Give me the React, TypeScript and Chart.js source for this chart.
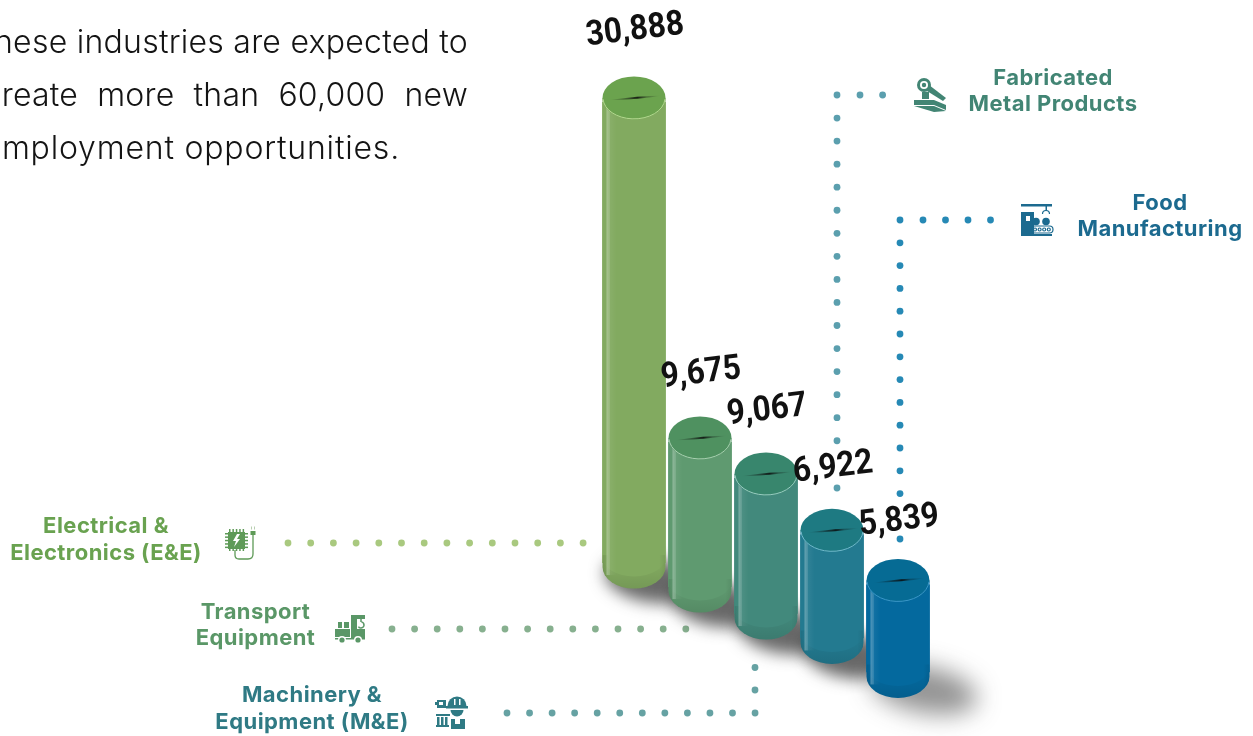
import React, { useEffect, useRef } from "react";
import { Chart, registerables } from "chart.js";

Chart.register(...registerables);

// Employment opportunities per industry
const industries = [
  "Electrical & Electronics (E&E)",
  "Transport Equipment",
  "Machinery & Equipment (M&E)",
  "Fabricated Metal Products",
  "Food Manufacturing",
];
const jobs = [30888, 9675, 9067, 6922, 5839];
// Each cylinder stands on a lower step of the staircase
const steps = [11640, 10030, 8220, 6580, 4300];

const bodyColors = ["#82aa60", "#5f9a70", "#42897c", "#237a90", "#04699e"];
const lidColors = ["#6ba34e", "#4f9160", "#38866d", "#1e7a82", "#066b94"];
const rimColors = ["#b4d890", "#a8d0b0", "#98ccc0", "#70b8cc", "#3a96c8"];
const labelLift = [67, 64, 63, 62, 59];

const W = 1253;
const H = 736;
const CAP_RX = 31.5;
const CAP_RY = 21.5;
const CAP_OVERHANG = 4.5;

const introLines = [
  { text: "these industries are expected to", y: 53, x: 468, letters: 0.25, words: 0 },
  { text: "create more than 60,000 new", y: 106, x: 468, letters: 0.2, words: 10 },
  { text: "employment opportunities.", y: 159, x: 400, letters: 0.8, words: 0 },
];

type Callout = { lines: string[]; cx: number; ys: number[]; color: string };
const callouts: Callout[] = [
  { lines: ["Electrical &", "Electronics (E&E)"], cx: 106, ys: [526.5, 553], color: "#69a250" },
  { lines: ["Transport", "Equipment"], cx: 255.5, ys: [612.5, 638.5], color: "#5a9767" },
  { lines: ["Machinery &", "Equipment (M&E)"], cx: 312, ys: [695.5, 722], color: "#2f7a84" },
  { lines: ["Fabricated", "Metal Products"], cx: 1053, ys: [78, 104], color: "#428574" },
  { lines: ["Food", "Manufacturing"], cx: 1160, ys: [203, 229], color: "#1c6a8f" },
];

// Dotted leader runs: [x0, y0, stepX, stepY, count, colour]
type Run = [number, number, number, number, number, string];
const leaderRuns: Run[] = [
  [288, 543, 22.7, 0, 14, "#a9c97f"],
  [392, 629, 22.6, 0, 14, "#87b08f"],
  [507, 713, 22.55, 0, 12, "#66a2a3"],
  [755, 690, 0, 22.6, 1, "#66a2a3"],
  [755, 667.5, 0, 22.6, 1, "#66a2a3"],
  [860, 95, 22.6, 0, 2, "#5b9fae"],
  [837, 95, 0, 23.05, 16, "#5b9fae"],
  [837, 488, 0, 23, 1, "#5b9fae"],
  [923, 220, 22.5, 0, 4, "#2689b5"],
  [900, 220, 0, 22.8, 13, "#2689b5"],
  [900, 539, 0, 23, 1, "#2689b5"],
];

function drawLeaders(ctx: CanvasRenderingContext2D) {
  for (const [x0, y0, sx, sy, n, color] of leaderRuns) {
    ctx.fillStyle = color;
    for (let i = 0; i < n; i++) {
      ctx.beginPath();
      ctx.arc(x0 + sx * i, y0 + sy * i, 3.4, 0, Math.PI * 2);
      ctx.fill();
    }
  }
}

function drawShadow(ctx: CanvasRenderingContext2D, cx: number, by: number, last: boolean) {
  ctx.save();
  ctx.filter = last ? "blur(12px)" : "blur(8px)";
  ctx.fillStyle = last ? "rgba(40,40,40,0.5)" : "rgba(40,40,40,0.7)";
  ctx.beginPath();
  ctx.ellipse(cx + (last ? 26 : 14), by + (last ? 13 : 12), last ? 54 : 44, 23, 0.2, 0, Math.PI * 2);
  ctx.fill();
  ctx.restore();
}

function bodyPath(ctx: CanvasRenderingContext2D, cx: number, ty: number, by: number) {
  ctx.beginPath();
  ctx.moveTo(cx - CAP_RX, ty);
  ctx.lineTo(cx - CAP_RX, by);
  ctx.ellipse(cx, by, CAP_RX, CAP_RY, 0, Math.PI, 0, true);
  ctx.lineTo(cx + CAP_RX, ty);
  ctx.closePath();
}

function drawCylinder(ctx: CanvasRenderingContext2D, i: number, cx: number, ty: number, by: number) {
  ctx.save();
  // Side wall
  bodyPath(ctx, cx, ty, by);
  ctx.fillStyle = bodyColors[i];
  ctx.fill();
  ctx.clip();

  // Slightly darker wash along the foot of the wall
  ctx.beginPath();
  ctx.moveTo(cx - CAP_RX, by - 10);
  ctx.ellipse(cx, by - 10, CAP_RX, CAP_RY - 2, 0, Math.PI, 0, true);
  ctx.lineTo(cx + CAP_RX, by + 30);
  ctx.lineTo(cx - CAP_RX, by + 30);
  ctx.closePath();
  const foot = ctx.createLinearGradient(0, by, 0, by + CAP_RY);
  foot.addColorStop(0, "rgba(0,0,0,0.015)");
  foot.addColorStop(1, "rgba(0,0,0,0.1)");
  ctx.fillStyle = foot;
  ctx.fill();

  // Edge darkening at the round sides of the foot
  const edge = ctx.createLinearGradient(cx - CAP_RX, 0, cx + CAP_RX, 0);
  edge.addColorStop(0, "rgba(0,0,0,0.1)");
  edge.addColorStop(0.1, "rgba(0,0,0,0)");
  edge.addColorStop(0.9, "rgba(0,0,0,0)");
  edge.addColorStop(1, "rgba(0,0,0,0.07)");
  ctx.fillStyle = edge;
  ctx.fillRect(cx - CAP_RX, by - 12, CAP_RX * 2, CAP_RY + 14);

  // Glossy strip down the left of the wall
  const gloss = ctx.createLinearGradient(cx - CAP_RX + 4, 0, cx - CAP_RX + 14, 0);
  gloss.addColorStop(0, "rgba(255,255,255,0.3)");
  gloss.addColorStop(0.3, "rgba(255,255,255,0.18)");
  gloss.addColorStop(0.32, "rgba(255,255,255,0.06)");
  gloss.addColorStop(1, "rgba(255,255,255,0)");
  ctx.fillStyle = gloss;
  ctx.fillRect(cx - CAP_RX + 4, ty, 10, by - ty + 8);
  ctx.restore();

  // Lid
  ctx.beginPath();
  ctx.ellipse(cx, ty, CAP_RX, CAP_RY, 0, 0, Math.PI * 2);
  ctx.fillStyle = lidColors[i];
  ctx.fill();

  // Light rim on the near side of the lid
  ctx.strokeStyle = rimColors[i];
  ctx.lineWidth = 1;
  ctx.beginPath();
  ctx.ellipse(cx, ty, CAP_RX - 0.5, CAP_RY - 0.5, 0, Math.PI * 0.02, Math.PI * 0.98);
  ctx.stroke();

  // Slot across the lid
  ctx.save();
  ctx.translate(cx + 1, ty);
  ctx.rotate(-0.085);
  const slot = ctx.createLinearGradient(-26, 0, 26, 0);
  slot.addColorStop(0, "rgba(0,0,0,0)");
  slot.addColorStop(0.3, "rgba(10,10,10,0.35)");
  slot.addColorStop(0.55, "rgba(10,10,10,0.85)");
  slot.addColorStop(0.72, "rgba(10,10,10,0.3)");
  slot.addColorStop(1, "rgba(0,0,0,0)");
  ctx.fillStyle = slot;
  ctx.beginPath();
  ctx.moveTo(-26, 0);
  ctx.quadraticCurveTo(4, -1.9, 26, 0);
  ctx.quadraticCurveTo(4, 1.9, -26, 0);
  ctx.fill();
  ctx.restore();
}

const rect = (c: CanvasRenderingContext2D, x: number, y: number, w: number, h: number) => c.fillRect(x, y, w, h);
const disc = (c: CanvasRenderingContext2D, x: number, y: number, r: number) => {
  c.beginPath();
  c.arc(x, y, r, 0, Math.PI * 2);
  c.fill();
};

// Small pictograms beside the callouts
function iconChip(c: CanvasRenderingContext2D) {
  c.fillStyle = "#5e9a57";
  rect(c, 3, 6, 17, 17);
  for (let k = 0; k < 5; k++) {
    rect(c, 4 + k * 3.4, 3, 1.5, 22);
    rect(c, 0, 7 + k * 3.4, 23, 1.5);
  }
  rect(c, 3.5, 6.5, 16, 16);
  c.fillStyle = "#ffffff";
  c.beginPath();
  c.moveTo(12, 8);
  c.lineTo(8, 15);
  c.lineTo(11, 15);
  c.lineTo(9, 21);
  c.lineTo(15, 13);
  c.lineTo(12, 13);
  c.lineTo(15, 8);
  c.closePath();
  c.fill();
  c.strokeStyle = "#5e9a57";
  c.lineWidth = 1.3;
  c.beginPath();
  c.moveTo(10, 24);
  c.lineTo(10, 29);
  c.quadraticCurveTo(10, 33, 14, 33);
  c.lineTo(23, 33);
  c.quadraticCurveTo(28, 33, 28, 28);
  c.lineTo(28, 8);
  c.stroke();
  c.fillStyle = "#5e9a57";
  rect(c, 25.5, 5, 5, 4);
  c.fillStyle = "#b8cfb0";
  rect(c, 26, 0.5, 1, 3);
  rect(c, 29, 0.5, 1, 3);
}

function iconTruck(c: CanvasRenderingContext2D) {
  c.fillStyle = "#5a9767";
  rect(c, 0, 14, 15, 8);
  rect(c, 3, 7, 4, 6);
  rect(c, 9, 7, 5, 6);
  rect(c, 16, 4, 6, 20);
  rect(c, 16, 0, 14, 4);
  rect(c, 16, 14, 14, 10);
  rect(c, 0, 23, 30, 1.5);
  c.strokeStyle = "#5a9767";
  c.lineWidth = 1.5;
  c.beginPath();
  c.arc(26, 10, 3, -1.4, 2.6);
  c.moveTo(26, 4);
  c.lineTo(26, 7);
  c.stroke();
  c.fillStyle = "#ffffff";
  disc(c, 7, 25, 4);
  disc(c, 23, 25, 4);
  c.fillStyle = "#5a9767";
  disc(c, 7, 25, 2.6);
  disc(c, 23, 25, 2.6);
}

function iconWorker(c: CanvasRenderingContext2D) {
  c.fillStyle = "#2f7a84";
  c.beginPath();
  c.arc(22, 9, 9.5, Math.PI, 0);
  c.fill();
  rect(c, 11, 9, 22, 2.5);
  c.beginPath();
  c.arc(22, 13, 6.5, 0, Math.PI);
  c.fill();
  c.fillStyle = "#ffffff";
  rect(c, 19, 2, 1.5, 6);
  rect(c, 24, 2, 1.5, 6);
  c.fillStyle = "#2f7a84";
  rect(c, 2, 3, 9, 8);
  rect(c, 0, 5, 2, 3);
  c.fillStyle = "#ffffff";
  rect(c, 4, 5, 4, 3);
  c.fillStyle = "#2f7a84";
  rect(c, 1, 17, 14, 2);
  rect(c, 2, 20, 2.5, 8);
  rect(c, 6, 20, 2.5, 8);
  rect(c, 10, 20, 2.5, 8);
  rect(c, 1, 28, 13, 2);
  rect(c, 16, 22, 14, 10);
  c.fillStyle = "#ffffff";
  rect(c, 20, 22, 5, 5);
}

function iconMetal(c: CanvasRenderingContext2D) {
  c.fillStyle = "#428574";
  c.beginPath();
  c.arc(10, 7, 7, 0, Math.PI * 2);
  c.fill();
  c.fillStyle = "#ffffff";
  disc(c, 10, 7, 4);
  c.fillStyle = "#428574";
  disc(c, 10, 7, 2.2);
  rect(c, 8, 14, 7, 7);
  c.beginPath();
  c.moveTo(15, 7);
  c.lineTo(32, 20);
  c.lineTo(29, 23);
  c.lineTo(13, 13);
  c.closePath();
  c.fill();
  rect(c, 0, 22, 20, 5);
  c.beginPath();
  c.moveTo(0, 28);
  c.lineTo(20, 28);
  c.lineTo(32, 33);
  c.lineTo(20, 34);
  c.closePath();
  c.fill();
  c.beginPath();
  c.moveTo(20, 22);
  c.lineTo(32, 27);
  c.lineTo(32, 32);
  c.lineTo(20, 27);
  c.closePath();
  c.fill();
}

function iconFood(c: CanvasRenderingContext2D) {
  c.fillStyle = "#1c6a8f";
  rect(c, 0, 0, 31, 2.5);
  rect(c, 0, 8, 13, 22);
  rect(c, 0, 30, 31, 2);
  c.fillStyle = "#ffffff";
  rect(c, 5, 12, 4, 5);
  c.fillStyle = "#1c6a8f";
  disc(c, 15, 17.5, 3.8);
  disc(c, 25, 17.5, 3.8);
  rect(c, 24.5, 2, 1.5, 5);
  c.strokeStyle = "#1c6a8f";
  c.lineWidth = 1.2;
  c.beginPath();
  c.arc(25, 10, 3.5, Math.PI, 0);
  c.stroke();
  c.beginPath();
  c.roundRect(10, 22, 22, 7, 3.5);
  c.stroke();
  for (let k = 0; k < 4; k++) {
    c.beginPath();
    c.arc(14 + k * 4.6, 25.5, 1.5, 0, Math.PI * 2);
    c.stroke();
  }
}

const icons: [(c: CanvasRenderingContext2D) => void, number, number][] = [
  [iconChip, 225, 526],
  [iconTruck, 335, 615],
  [iconWorker, 435, 697],
  [iconMetal, 914, 78],
  [iconFood, 1021, 204],
];

const staircasePlugin = {
  id: "staircase",
  beforeDatasetsDraw(chart: Chart) {
    const { ctx } = chart;
    const bars = chart.getDatasetMeta(0).data as any[];
    ctx.save();
    drawLeaders(ctx);
    bars.forEach((bar, i) => drawShadow(ctx, bar.x, bar.base + CAP_OVERHANG, i === bars.length - 1));
    ctx.restore();
  },
  afterDatasetsDraw(chart: Chart) {
    const { ctx } = chart;
    const bars = chart.getDatasetMeta(0).data as any[];
    ctx.save();
    bars.forEach((bar, i) => drawCylinder(ctx, i, bar.x, bar.y - CAP_OVERHANG, bar.base + CAP_OVERHANG));

    // Tilted value labels above each lid
    ctx.fillStyle = "#111111";
    ctx.font = "700 31px Roboto";
    ctx.textAlign = "center";
    ctx.textBaseline = "middle";
    bars.forEach((bar, i) => {
      ctx.save();
      ctx.translate(bar.x + 1, bar.y - CAP_OVERHANG - labelLift[i]);
      ctx.rotate(-0.12);
      ctx.scale(1.02, 1.12);
      ctx.fillText(jobs[i].toLocaleString("en-US"), 0, 0);
      ctx.restore();
    });

    // Intro paragraph, running off the left edge
    const c2 = ctx as any;
    ctx.fillStyle = "#141414";
    ctx.font = "300 32px Inter";
    ctx.textBaseline = "alphabetic";
    ctx.textAlign = "right";
    introLines.forEach((l) => {
      c2.letterSpacing = `${l.letters}px`;
      c2.wordSpacing = `${l.words}px`;
      ctx.fillText(l.text, l.x, l.y);
    });
    c2.wordSpacing = "0px";

    // Industry callouts
    c2.letterSpacing = "0.45px";
    ctx.font = "700 22px Inter";
    ctx.textAlign = "center";
    ctx.textBaseline = "middle";
    callouts.forEach((c) => {
      ctx.fillStyle = c.color;
      c.lines.forEach((t, k) => ctx.fillText(t, c.cx, c.ys[k]));
    });
    c2.letterSpacing = "0px";

    icons.forEach(([draw, x, y]) => {
      ctx.save();
      ctx.translate(x, y);
      draw(ctx);
      ctx.restore();
    });
    ctx.restore();
  },
};

export default function App() {
  const ref = useRef<HTMLCanvasElement>(null);
  useEffect(() => {
    const chart = new Chart(ref.current!, {
      type: "bar",
      data: {
        labels: industries,
        datasets: [
          {
            label: "New employment opportunities",
            data: jobs.map((v, i) => [steps[i], steps[i] + v]) as any,
            backgroundColor: bodyColors,
            borderWidth: 0,
            barThickness: 63,
          },
        ],
      },
      options: {
        animation: false,
        responsive: false,
        layout: { padding: { left: 601, right: 322, top: 0, bottom: 0 } },
        plugins: { legend: { display: false }, tooltip: { enabled: false } },
        scales: {
          x: { display: false, grid: { display: false } },
          y: { display: false, min: 0, max: 49400, grid: { display: false } },
        },
      },
      plugins: [staircasePlugin],
    });
    return () => chart.destroy();
  }, []);
  return (
    <canvas
      ref={ref}
      width={W}
      height={H}
      style={{ position: "fixed", left: 0, top: 0, width: W, height: H, background: "#ffffff" }}
    />
  );
}
